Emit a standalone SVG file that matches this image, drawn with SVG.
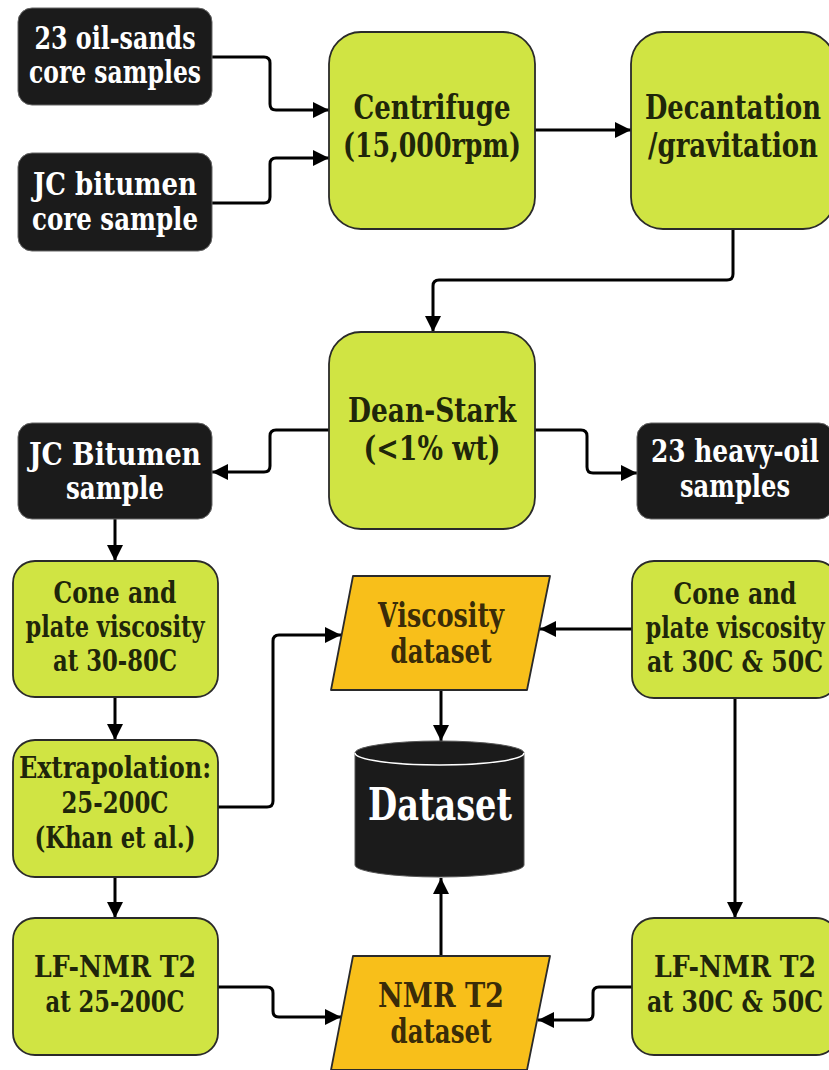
<svg xmlns="http://www.w3.org/2000/svg" width="829" height="1070" viewBox="0 0 829 1070">
<defs>
<marker id="ah" markerUnits="userSpaceOnUse" viewBox="0 0 12 12" markerWidth="16" markerHeight="16" refX="12" refY="6" orient="auto">
<path d="M0,0 L12,6 L0,12 Z" fill="#000"/>
</marker>
<style>
.blk{fill:#1b1b1b;stroke:#666;stroke-width:1}
.grn{fill:#d0e443;stroke:#2a2a2a;stroke-width:1.8}
.org{fill:#f8bf1a;stroke:#2a2a2a;stroke-width:1.8;stroke-linejoin:round}
.tw{fill:#ffffff;font-size:32px}
.tg{fill:#1f260a;font-size:34px}
.ts{fill:#1f260a;font-size:30px}
.to{fill:#3a2c08;font-size:33px}
.con{fill:none;stroke:#000;stroke-width:3;marker-end:url(#ah)}
</style>
</defs>
<rect width="829" height="1070" fill="#fff"/>
<g id="connectors">
<path class="con" d="M212,57 H264 Q270,57 270,63 V104 Q270,110 276,110 H329"/>
<path class="con" d="M212,203 H264 Q270,203 270,197 V164 Q270,158 276,158 H329"/>
<path class="con" d="M535,130 H631"/>
<path class="con" d="M733,229 V274 Q733,280 727,280 H439 Q433,280 433,286 V332"/>
<path class="con" d="M329,430 H276 Q270,430 270,436 V466 Q270,472 264,472 H212"/>
<path class="con" d="M535,430 H581 Q587,430 587,436 V467 Q587,473 593,473 H637"/>
<path class="con" d="M115,519 V561"/>
<path class="con" d="M115,697 V740"/>
<path class="con" d="M218,807 H267 Q273,807 273,801 V641 Q273,635 279,635 H341"/>
<path class="con" d="M632,629 H540"/>
<path class="con" d="M441,690 V741"/>
<path class="con" d="M115,877 V918"/>
<path class="con" d="M735,698 V918"/>
<path class="con" d="M218,987 H267 Q273,987 273,993 V1011 Q273,1017 279,1017 H341"/>
<path class="con" d="M632,987 H599 Q593,987 593,993 V1014 Q593,1020 587,1020 H538"/>
<path class="con" d="M441,956 V878"/>
</g>
<g font-family="DejaVu Serif, serif" font-weight="bold" text-anchor="middle">
<g id="oilsands">
<rect class="blk" x="18" y="8" width="194" height="97" rx="14"/>
<text class="tw" x="115" y="49" textLength="161" lengthAdjust="spacingAndGlyphs">23 oil-sands</text>
<text class="tw" x="115" y="83" textLength="172" lengthAdjust="spacingAndGlyphs">core samples</text>
</g>
<g id="jccore">
<rect class="blk" x="18" y="153" width="194" height="98" rx="14"/>
<text class="tw" x="115" y="195" textLength="164" lengthAdjust="spacingAndGlyphs">JC bitumen</text>
<text class="tw" x="115" y="230" textLength="166" lengthAdjust="spacingAndGlyphs">core sample</text>
</g>
<g id="centrifuge">
<rect class="grn" x="329" y="32" width="206" height="197" rx="32"/>
<text class="tg" x="432" y="119" textLength="157" lengthAdjust="spacingAndGlyphs">Centrifuge</text>
<text class="tg" x="432" y="157" textLength="178" lengthAdjust="spacingAndGlyphs">(15,000rpm)</text>
</g>
<g id="decantation">
<rect class="grn" x="631" y="32" width="204" height="197" rx="32"/>
<text class="tg" x="733" y="119" textLength="176" lengthAdjust="spacingAndGlyphs">Decantation</text>
<text class="tg" x="733" y="157" textLength="170" lengthAdjust="spacingAndGlyphs">/gravitation</text>
</g>
<g id="deanstark">
<rect class="grn" x="329" y="332" width="206" height="197" rx="32"/>
<text class="tg" x="432" y="422" textLength="168" lengthAdjust="spacingAndGlyphs">Dean-Stark</text>
<text class="tg" x="432" y="460" textLength="137" lengthAdjust="spacingAndGlyphs">(&lt;1% wt)</text>
</g>
<g id="jcsample">
<rect class="blk" x="18" y="423" width="194" height="96" rx="14"/>
<text class="tw" x="115" y="465" textLength="172" lengthAdjust="spacingAndGlyphs">JC Bitumen</text>
<text class="tw" x="115" y="499" textLength="98" lengthAdjust="spacingAndGlyphs">sample</text>
</g>
<g id="heavyoil">
<rect class="blk" x="637" y="423" width="196" height="96" rx="14"/>
<text class="tw" x="735" y="462" textLength="168" lengthAdjust="spacingAndGlyphs">23 heavy-oil</text>
<text class="tw" x="735" y="497" textLength="110" lengthAdjust="spacingAndGlyphs">samples</text>
</g>
<g id="coneleft">
<rect class="grn" x="13" y="561" width="205" height="136" rx="22"/>
<text class="ts" x="115" y="603" textLength="123" lengthAdjust="spacingAndGlyphs">Cone and</text>
<text class="ts" x="115" y="637" textLength="179" lengthAdjust="spacingAndGlyphs">plate viscosity</text>
<text class="ts" x="115" y="671" textLength="124" lengthAdjust="spacingAndGlyphs">at 30-80C</text>
</g>
<g id="coneright">
<rect class="grn" x="632" y="561" width="206" height="137" rx="22"/>
<text class="ts" x="735" y="604" textLength="123" lengthAdjust="spacingAndGlyphs">Cone and</text>
<text class="ts" x="735" y="638" textLength="179" lengthAdjust="spacingAndGlyphs">plate viscosity</text>
<text class="ts" x="735" y="672" textLength="176" lengthAdjust="spacingAndGlyphs">at 30C &amp; 50C</text>
</g>
<g id="extrapolation">
<rect class="grn" x="13" y="740" width="205" height="137" rx="22"/>
<text class="ts" x="115" y="778" textLength="192" lengthAdjust="spacingAndGlyphs">Extrapolation:</text>
<text class="ts" x="115" y="813" textLength="107" lengthAdjust="spacingAndGlyphs">25-200C</text>
<text class="ts" x="115" y="848" textLength="161" lengthAdjust="spacingAndGlyphs">(Khan et al.)</text>
</g>
<g id="viscositydataset">
<path class="org" d="M353,576 H550 L527,690 H331 Z"/>
<text class="to" x="441" y="627" textLength="126" lengthAdjust="spacingAndGlyphs">Viscosity</text>
<text class="to" x="441" y="663" textLength="101" lengthAdjust="spacingAndGlyphs">dataset</text>
</g>
<g id="dataset">
<path d="M355,753 A84.5,12 0 0,1 524,753 V865 A84.5,12 0 0,1 355,865 Z" fill="#1b1b1b" stroke="#555" stroke-width="1"/>
<path d="M355,753 A84.5,12 0 0,0 524,753" fill="none" stroke="#fff" stroke-width="1.5"/>
<text x="440" y="820" fill="#fff" font-size="44" textLength="144" lengthAdjust="spacingAndGlyphs">Dataset</text>
</g>
<g id="nmrleft">
<rect class="grn" x="13" y="918" width="205" height="137" rx="22"/>
<text class="ts" x="115" y="977" textLength="162" lengthAdjust="spacingAndGlyphs">LF-NMR T2</text>
<text class="ts" x="115" y="1012" textLength="139" lengthAdjust="spacingAndGlyphs">at 25-200C</text>
</g>
<g id="nmrright">
<rect class="grn" x="632" y="918" width="206" height="137" rx="22"/>
<text class="ts" x="735" y="977" textLength="162" lengthAdjust="spacingAndGlyphs">LF-NMR T2</text>
<text class="ts" x="735" y="1012" textLength="176" lengthAdjust="spacingAndGlyphs">at 30C &amp; 50C</text>
</g>
<g id="nmrdataset">
<path class="org" d="M353,956 H550 L527,1070 H331 Z"/>
<text class="to" x="441" y="1007" textLength="126" lengthAdjust="spacingAndGlyphs">NMR T2</text>
<text class="to" x="441" y="1043" textLength="101" lengthAdjust="spacingAndGlyphs">dataset</text>
</g>
</g>
</svg>
